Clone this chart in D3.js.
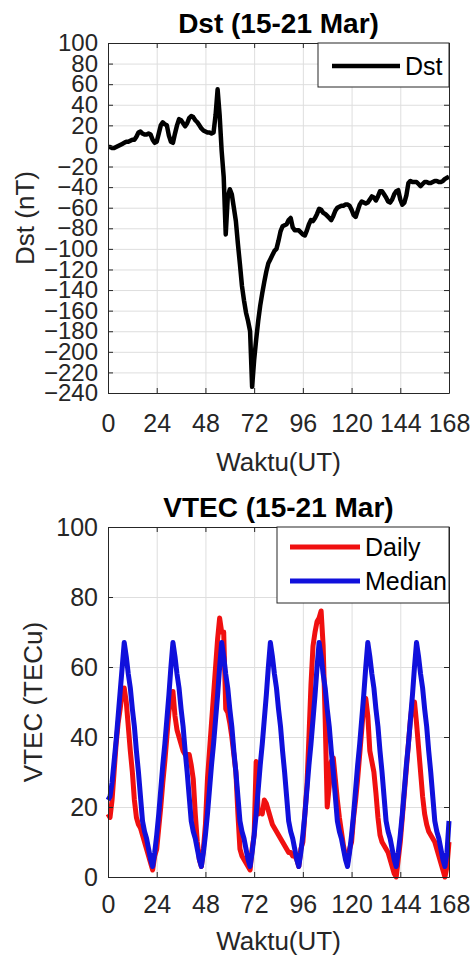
<!DOCTYPE html>
<html>
<head>
<meta charset="utf-8">
<script src="https://cdn.jsdelivr.net/npm/d3@7"></script>
<style>
  body { margin: 0; background: #fff; }
  svg text { font-family: "Liberation Sans", Arial, Helvetica, sans-serif; fill: #262626; }
  .grid line { stroke: #dedede; stroke-width: 1; }
  .grid path { display: none; }
  .frame path, .frame line { stroke: #262626; stroke-width: 1; }
</style>
</head>
<body>
<svg id="chart" width="473" height="958"></svg>
<script>
// hours since 15 Mar 00 UT
const hourTicks = [0, 24, 48, 72, 96, 120, 144, 168];
const dstTicks = [100, 80, 60, 40, 20, 0, -20, -40, -60, -80, -100, -120, -140, -160, -180, -200, -220, -240];
const vtecTicks = [0, 20, 40, 60, 80, 100];

// Dst index (nT), hourly, 0..168
const dst = [
  -1, -1, -2, -2, -1, 0, 1, 2, 3, 4, 4, 5, 6, 6, 9, 13, 14, 12, 11, 11, 12, 11, 6, 3,
  4, 12, 20, 23, 21, 20, 10, 4, 3, 12, 20, 26, 25, 22, 19, 22, 27, 29, 28, 25, 23, 20, 17, 15,
  14, 13, 13, 12, 13, 30, 55, 30, -5, -30, -86, -50, -42, -47, -60, -73, -95, -115, -136, -150, -162, -170, -180, -234,
  -208, -188, -170, -155, -143, -132, -122, -114, -110, -106, -102, -100, -92, -83, -78, -77, -76, -72, -70, -79, -82, -82, -82, -84,
  -86, -87, -82, -76, -72, -73, -70, -66, -61, -62, -65, -66, -68, -70, -72, -68, -63, -60, -59, -58, -58, -57, -57, -58,
  -62, -67, -69, -63, -57, -54, -55, -56, -55, -52, -49, -50, -53, -49, -44, -44, -47, -50, -54, -55, -52, -47, -44, -43,
  -52, -57, -55, -48, -36, -34, -35, -35, -35, -37, -39, -37, -35, -35, -36, -36, -35, -34, -34, -35, -35, -34, -32, -31,
  -30
];

// VTEC (TECu), hourly, 0..168
const vtecDaily = [
  18, 17, 22, 30, 38, 44, 48, 53, 54, 50, 43, 36, 30, 22, 17, 15, 14, 12, 10, 8, 6, 4, 2, 6,
  8, 14, 20, 27, 33, 40, 47, 52, 53, 46, 42, 40, 38, 36, 35, 35, 35, 32, 28, 18, 10, 5, 3, 8,
  15, 28, 36, 44, 52, 60, 68, 74, 70, 70, 48, 47, 44, 40, 35, 30, 18, 8, 6, 5, 4, 3, 2, 8,
  12, 33, 18, 19, 18, 22, 21, 19, 17, 15, 14, 13, 12, 11, 10, 9, 8, 7, 7, 6, 6, 5, 3, 8,
  10, 18, 26, 40, 55, 66, 70, 73, 74, 76, 66, 45, 20, 26, 33, 34, 28, 22, 17, 13, 9, 6, 4, 8,
  10, 17, 22, 28, 35, 42, 49, 51, 46, 36, 33, 30, 24, 17, 12, 10, 9, 8, 7, 5, 3, 1, 0, 5,
  10, 17, 24, 31, 38, 45, 50, 50, 44, 37, 30, 23, 18, 15, 13, 12, 11, 10, 8, 6, 4, 2, 0, 3,
  10
];
const vtecMedian = [
  22, 23, 27, 33, 39, 46, 53, 60, 67, 63, 58, 54, 48, 43, 36, 30, 23, 16, 13, 11, 8, 5, 3, 7,
  12, 18, 25, 32, 38, 45, 52, 60, 67, 63, 58, 54, 48, 43, 36, 30, 23, 16, 13, 11, 8, 5, 3, 7,
  12, 18, 25, 32, 38, 45, 52, 60, 67, 63, 58, 54, 48, 43, 36, 30, 23, 16, 13, 11, 8, 5, 3, 7,
  12, 18, 25, 32, 38, 45, 52, 60, 67, 63, 58, 54, 48, 43, 36, 30, 23, 16, 13, 11, 8, 5, 3, 7,
  12, 18, 25, 32, 38, 45, 52, 60, 67, 63, 58, 54, 48, 43, 36, 30, 23, 16, 13, 11, 8, 5, 3, 7,
  12, 18, 25, 32, 38, 45, 52, 60, 67, 63, 58, 54, 48, 43, 36, 30, 23, 16, 13, 11, 8, 5, 3, 7,
  12, 18, 25, 32, 38, 45, 52, 60, 67, 63, 58, 54, 48, 43, 36, 30, 23, 16, 13, 11, 8, 5, 3, 7,
  16
];

const svg = d3.select("#chart");
const tickFont = 25;

function drawPanel(opt) {
  var g = svg.append("g");
  var x = d3.scaleLinear().domain([0, 168]).range([opt.left, opt.right]);
  var y = d3.scaleLinear().domain(opt.yDomain).range([opt.bottom, opt.top]);
  var h = opt.bottom - opt.top, w = opt.right - opt.left;

  // grid
  g.append("g").attr("class", "grid")
    .attr("transform", "translate(0," + opt.bottom + ")")
    .call(d3.axisBottom(x).tickValues(hourTicks).tickSize(-h).tickFormat(""));
  g.append("g").attr("class", "grid")
    .attr("transform", "translate(" + opt.left + ",0)")
    .call(d3.axisLeft(y).tickValues(opt.yTicks).tickSize(-w).tickFormat(""));

  // series
  opt.series.forEach(function(s) {
    var line = d3.line()
      .x(function(d, i) { return x(i); })
      .y(function(d) { return y(d); });
    g.append("path")
      .datum(s.values)
      .attr("fill", "none")
      .attr("stroke", s.color)
      .attr("stroke-width", s.width)
      .attr("stroke-linejoin", "round")
      .attr("d", line);
  });

  // box + inward ticks
  g.append("g").attr("class", "frame")
    .attr("transform", "translate(0," + opt.bottom + ")")
    .call(d3.axisBottom(x).tickValues(hourTicks).tickSizeInner(-5).tickSizeOuter(0).tickPadding(opt.xPad))
    .selectAll("text").attr("font-size", tickFont);
  g.append("g").attr("class", "frame")
    .attr("transform", "translate(0," + opt.top + ")")
    .call(d3.axisTop(x).tickValues(hourTicks).tickSizeInner(-5).tickSizeOuter(0).tickFormat(""));
  g.append("g").attr("class", "frame")
    .attr("transform", "translate(" + opt.left + ",0)")
    .call(d3.axisLeft(y).tickValues(opt.yTicks).tickSizeInner(-5).tickSizeOuter(0).tickPadding(10))
    .selectAll("text").attr("font-size", opt.yFont);
  g.append("g").attr("class", "frame")
    .attr("transform", "translate(" + opt.right + ",0)")
    .call(d3.axisRight(y).tickValues(opt.yTicks).tickSizeInner(-5).tickSizeOuter(0).tickFormat(""));

  g.selectAll(".frame text")
    .attr("font-family", null)
    .attr("fill", "#262626");

  // title
  g.append("text")
    .attr("x", (opt.left + opt.right) / 2)
    .attr("y", opt.top - 10)
    .attr("text-anchor", "middle")
    .attr("font-size", 28)
    .attr("font-weight", "bold")
    .style("fill", "#000")
    .text(opt.title);

  // axis labels
  g.append("text")
    .attr("x", (opt.left + opt.right) / 2)
    .attr("y", opt.xLabelY)
    .attr("text-anchor", "middle")
    .attr("font-size", 26)
    .text("Waktu(UT)");
  g.append("text")
    .attr("transform", "translate(" + opt.yLabelX + "," + ((opt.top + opt.bottom) / 2) + ") rotate(-90)")
    .attr("text-anchor", "middle")
    .attr("dy", "0.35em")
    .attr("font-size", 26)
    .text(opt.yLabel);

  // legend
  var lg = g.append("g");
  lg.append("rect")
    .attr("x", opt.legend.x).attr("y", opt.top)
    .attr("width", opt.right - opt.legend.x).attr("height", opt.legend.h)
    .attr("fill", "#fff").attr("stroke", "#262626").attr("stroke-width", 1);
  opt.series.forEach(function(s, i) {
    var ly = opt.top + opt.legend.first + i * opt.legend.step;
    lg.append("line")
      .attr("x1", opt.legend.x + opt.legend.lineStart).attr("x2", opt.legend.x + opt.legend.lineStart + opt.legend.lineLen)
      .attr("y1", ly).attr("y2", ly)
      .attr("stroke", s.color).attr("stroke-width", s.width);
    lg.append("text")
      .attr("x", opt.legend.x + opt.legend.lineStart + opt.legend.lineLen + 5)
      .attr("y", ly)
      .attr("dy", "0.35em")
      .attr("font-size", tickFont)
      .style("fill", "#000")
      .text(s.name);
  });
}

drawPanel({
  title: "Dst (15-21 Mar)",
  left: 108, right: 449, top: 43, bottom: 393,
  yDomain: [-240, 100], yTicks: dstTicks, yFont: 24,
  xPad: 21, xLabelY: 471, yLabelX: 25, yLabel: "Dst (nT)",
  series: [{name: "Dst", values: dst, color: "#000", width: 4.5}],
  legend: {x: 318, h: 44, first: 23, step: 0, lineStart: 14, lineLen: 68}
});

drawPanel({
  title: "VTEC (15-21 Mar)",
  left: 108, right: 449, top: 527, bottom: 877,
  yDomain: [0, 100], yTicks: vtecTicks, yFont: tickFont,
  xPad: 18, xLabelY: 950, yLabelX: 33, yLabel: "VTEC (TECu)",
  series: [
    {name: "Daily", values: vtecDaily, color: "#f01010", width: 5},
    {name: "Median", values: vtecMedian, color: "#1010dc", width: 5}
  ],
  legend: {x: 277, h: 76, first: 20, step: 34, lineStart: 13, lineLen: 70}
});
</script>
</body>
</html>
